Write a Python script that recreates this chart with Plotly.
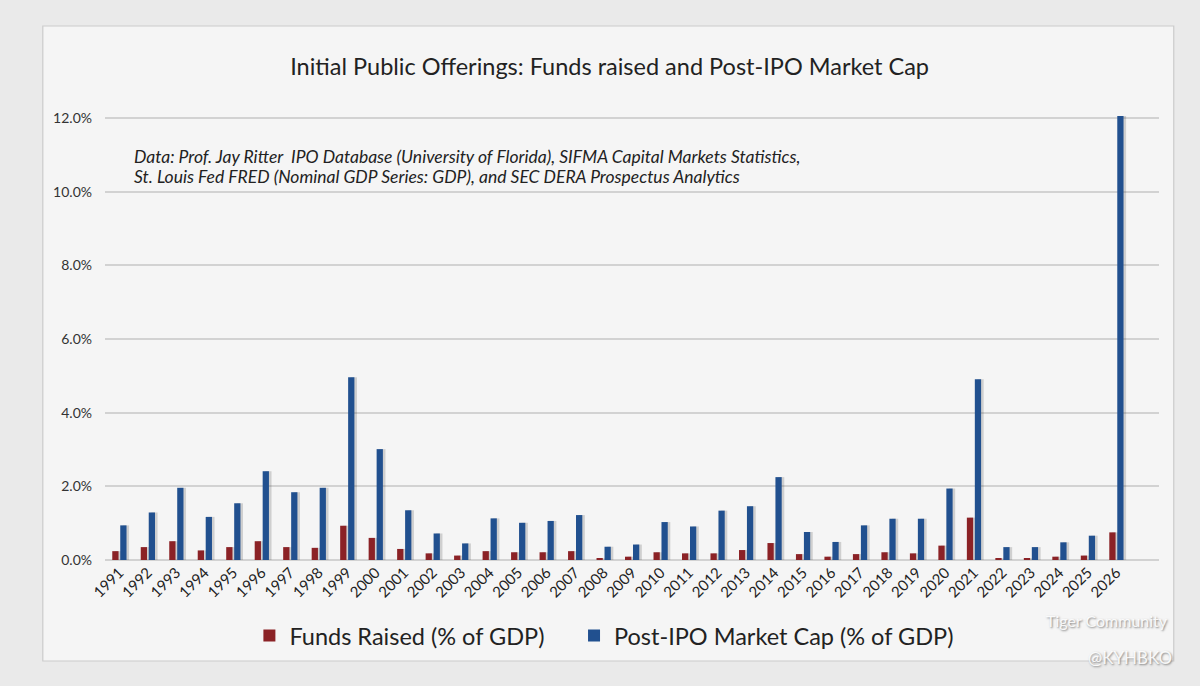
import plotly.graph_objects as go

# values, % of GDP
years = [str(y) for y in range(1991, 2027)]
funds_raised = [0.24, 0.35, 0.51, 0.26, 0.35, 0.51, 0.35, 0.33, 0.93, 0.60,
                0.30, 0.18, 0.12, 0.24, 0.21, 0.21, 0.24, 0.05, 0.09, 0.21,
                0.18, 0.18, 0.27, 0.46, 0.16, 0.09, 0.16, 0.21, 0.18, 0.39,
                1.15, 0.05, 0.05, 0.09, 0.12, 0.75]
market_cap = [0.94, 1.29, 1.96, 1.17, 1.54, 2.41, 1.84, 1.96, 4.96, 3.01,
              1.35, 0.72, 0.45, 1.13, 1.01, 1.06, 1.22, 0.36, 0.42, 1.03,
              0.91, 1.34, 1.46, 2.25, 0.76, 0.49, 0.94, 1.12, 1.12, 1.94,
              4.91, 0.35, 0.35, 0.48, 0.66, 12.05]
y_ticks = [0, 2, 4, 6, 8, 10, 12]
y_tick_labels = ["0.0%", "2.0%", "4.0%", "6.0%", "8.0%", "10.0%", "12.0%"]

title = "Initial Public Offerings: Funds raised and Post-IPO Market Cap"
source_1 = "Data: Prof. Jay Ritter  IPO Database (University of Florida), SIFMA Capital Markets Statistics,"
source_2 = "St. Louis Fed FRED (Nominal GDP Series: GDP), and SEC DERA Prospectus Analytics"

RED = "#8b2226"
BLUE = "#21508f"
SHADOW = "rgba(40,40,40,0.18)"
BAR_W = 0.22

fig = go.Figure()
# soft drop shadows behind the bars (like the Excel original)
fig.add_trace(go.Bar(x=years, y=funds_raised, width=BAR_W, offset=-0.245 + 0.09,
                     marker=dict(color=SHADOW, line=dict(width=0)),
                     showlegend=False, hoverinfo="skip"))
fig.add_trace(go.Bar(x=years, y=market_cap, width=BAR_W, offset=0.035 + 0.09,
                     marker=dict(color=SHADOW, line=dict(width=0)),
                     showlegend=False, hoverinfo="skip"))
fig.add_trace(go.Bar(x=years, y=funds_raised, name="Funds Raised (% of GDP)",
                     width=BAR_W, offset=-0.245, legend="legend",
                     marker=dict(color=RED, line=dict(width=0))))
fig.add_trace(go.Bar(x=years, y=market_cap, name="Post-IPO Market Cap (% of GDP)",
                     width=BAR_W, offset=0.035, legend="legend2",
                     marker=dict(color=BLUE, line=dict(width=0))))

# the framed card the chart sits on
fig.add_shape(type="rect", xref="paper", yref="paper",
              x0=-0.059, x1=1.014, y0=-0.227, y1=1.2,
              fillcolor="#f5f5f5", line=dict(color="#cccccc", width=1.2),
              layer="below")

fig.add_annotation(text=source_1, xref="paper", yref="paper", x=0.026, y=0.907,
                   xanchor="left", yanchor="middle", showarrow=False,
                   font=dict(family="Lato", size=17.5, color="#222222", style="italic"))
fig.add_annotation(text=source_2, xref="paper", yref="paper", x=0.026, y=0.862,
                   xanchor="left", yanchor="middle", showarrow=False,
                   font=dict(family="Lato", size=17.5, color="#222222", style="italic"))

# watermarks
fig.add_annotation(text="Tiger Community", xref="paper", yref="paper",
                   x=1.01, y=-0.135, xanchor="right", yanchor="middle", showarrow=False,
                   font=dict(family="Lato", size=16, color="rgba(255,255,255,0.9)",
                             shadow="1px 1px 2px #777"))
fig.add_annotation(text="@KYHBKO", xref="paper", yref="paper",
                   x=1.014, y=-0.218, xanchor="right", yanchor="middle", showarrow=False,
                   font=dict(family="Lato", size=17, color="rgba(255,255,255,0.9)",
                             shadow="1px 1px 2px #777"))

legend_style = dict(orientation="h", xanchor="left", y=-0.17, yanchor="middle",
                    font=dict(family="Lato", size=23.5, color="#222222"),
                    bgcolor="rgba(0,0,0,0)", itemwidth=30)

fig.update_layout(
    width=1200, height=686,
    margin=dict(l=105, r=41, t=115, b=126),
    paper_bgcolor="#eaeaea",
    plot_bgcolor="rgba(0,0,0,0)",
    barmode="overlay",
    font=dict(family="Lato", color="#333333"),
    title=dict(text=title, x=0.508, xanchor="center", y=0.902, yanchor="middle",
               font=dict(family="Lato", size=23.5, color="#222222")),
    legend=dict(x=0.137, **legend_style),
    legend2=dict(x=0.445, **legend_style),
    showlegend=True,
)
# an empty slot is left after 2026, as in the original
fig.update_xaxes(type="category", range=[-0.5, 36.5], tickangle=-45,
                 tickfont=dict(size=15, color="#222222"),
                 showgrid=False, showline=False, ticks="")
fig.update_yaxes(range=[0, 12.08], tickvals=y_ticks, ticktext=y_tick_labels,
                 tickfont=dict(size=14, color="#333333"), showgrid=True,
                 gridcolor="#d2d2d2", gridwidth=1.5, zeroline=True,
                 zerolinecolor="#d2d2d2", zerolinewidth=1.5, ticks="", ticklabelstandoff=12)

fig.write_html("out.html", config={"displayModeBar": False},
               post_script="document.body.style.margin='0';")
